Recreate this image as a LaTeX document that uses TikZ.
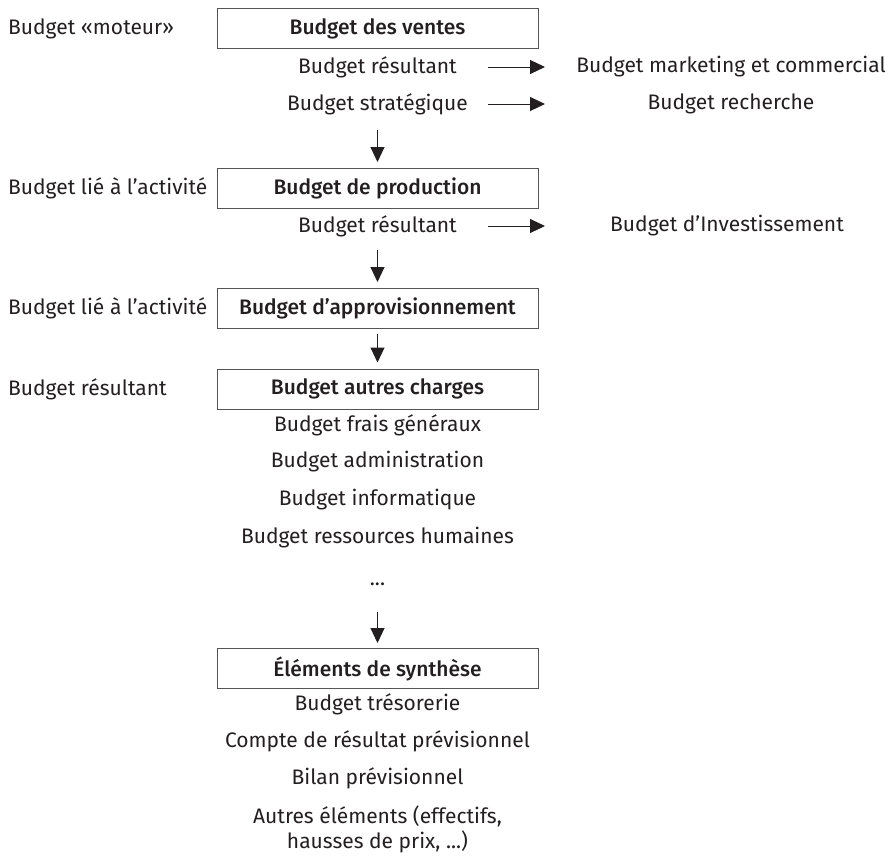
\documentclass[tikz,border=0pt]{standalone}
\usepackage{fontspec}
\setmainfont{Fira Sans}[BoldFont={Fira Sans Medium}]
\usetikzlibrary{arrows.meta}
\definecolor{txt}{HTML}{231F20}
\definecolor{boxline}{HTML}{555555}
\begin{document}
\begin{tikzpicture}[x=1pt,y=-1pt,
  every node/.style={text=txt,font=\fontsize{21}{24}\selectfont,inner sep=0pt},
  box/.style={draw=boxline,line width=1pt,minimum width=321pt,minimum height=40pt,font=\fontsize{21}{24}\selectfont\bfseries},
  lbl/.style={anchor=west},
  arr/.style={draw=txt,line width=1pt,-{Triangle[length=15pt,width=14pt]}}]
\useasboundingbox (0,0) rectangle (893,860);
% boxes
\node[box] (b1) at (377.5,28.5) {Budget des ventes};
\node[box] (b2) at (377.5,188.5) {Budget de production};
\node[box] (b3) at (377.5,308) {Budget d’approvisionnement};
\node[box] (b4) at (377.5,389) {Budget autres charges};
\node[box] (b5) at (377.5,668.5) {Éléments de synthèse};
% left labels
\node[lbl] (l1) at (8,28.5) {Budget «moteur»};
\node[lbl] (l2) at (8,188.5) {Budget lié à l’activité};
\node[lbl] (l3) at (8,308) {Budget lié à l’activité};
\node[lbl] (l4) at (8,389) {Budget résultant};
% sub texts
\node (r1) at (377.5,67) {Budget résultant};
\node (s1) at (377.5,104) {Budget stratégique};
\node (r2) at (377.5,226) {Budget résultant};
\node (f1) at (377.5,425) {Budget frais généraux};
\node (f2) at (377.5,462) {Budget administration};
\node (f3) at (377.5,500) {Budget informatique};
\node (f4) at (377.5,538) {Budget ressources humaines};
\node (f5) at (377.5,584) {...};
\node (t1) at (377.5,704) {Budget trésorerie};
\node (t2) at (377.5,741) {Compte de résultat prévisionnel};
\node (t3) at (377.5,778) {Bilan prévisionnel};
\node[align=center,font=\fontsize{21}{25}\selectfont] (t4) at (377.5,829) {Autres éléments (effectifs,\\hausses de prix, ...)};
% right texts
\node (m1) at (731,67) {Budget marketing et commercial};
\node (m2) at (731,104) {Budget recherche};
\node (m3) at (727,226) {Budget d’Investissement};
% arrow coordinates
\coordinate (h1a) at (488,67);  \coordinate (h1b) at (545,67);
\coordinate (h2a) at (488,104); \coordinate (h2b) at (545,104);
\coordinate (h3a) at (488,226); \coordinate (h3b) at (545,226);
\draw[arr] (h1a) -- (h1b);
\draw[arr] (h2a) -- (h2b);
\draw[arr] (h3a) -- (h3b);
\coordinate (v1a) at (377.5,130); \coordinate (v1b) at (377.5,162);
\coordinate (v2a) at (377.5,250); \coordinate (v2b) at (377.5,282);
\coordinate (v4a) at (377.5,612); \coordinate (v4b) at (377.5,643);
\draw[arr] (v1a) -- (v1b);
\draw[arr] (v2a) -- (v2b);
\draw[arr] ([yshift=-5pt]b3.south) -- ([yshift=6pt]b4.north);
\draw[arr] (v4a) -- (v4b);
\end{tikzpicture}
\end{document}
